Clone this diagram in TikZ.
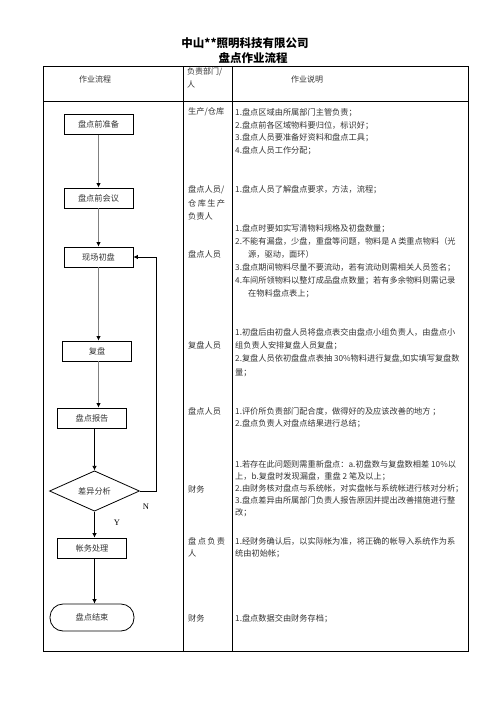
\documentclass[tikz,border=0pt]{standalone}
\usepackage{fontspec}
\setmainfont{Noto Sans CJK SC}
\newfontfamily\latserif{Liberation Serif}
\usetikzlibrary{shapes.geometric,arrows.meta}
\begin{document}
\begin{tikzpicture}[x=1pt,y=-1pt,
  tl/.style={anchor=west,inner sep=0pt,text height=6.5pt,text depth=1.5pt,font=\fontsize{8.2}{10}\selectfont,text=black!80},
  hd/.style={inner sep=0pt,text height=6.5pt,text depth=1.5pt,font=\fontsize{8}{10}\selectfont,text=black!80},
  fbox/.style={draw,line width=0.8pt,minimum width=69pt,minimum height=20pt,inner sep=0pt,font=\fontsize{8.2}{10}\selectfont,text=black!80},
  garr/.style={draw=black!50,line width=1.6pt,-{Latex[length=4.5pt,width=4.5pt,color=black]}},
  barr/.style={draw=black,line width=0.7pt,-{Latex[length=4.5pt,width=4.5pt]}},
  gridline/.style={line width=0.8pt},
  ttl/.style={inner sep=0pt,font=\fontsize{11.5}{13}\selectfont\bfseries}]
\path[use as bounding box] (0,0) rectangle (496,702);
% title
\node[ttl] (title1) at (245,43) {中山**照明科技有限公司};
\node[ttl] (title2) at (253,58) {盘点作业流程};
% table
\draw[gridline] (43,66) rectangle (468,651);
\draw[gridline] (43,101) -- (468,101);
\draw[gridline] (183,66) -- (183,651);
\draw[gridline] (232,66) -- (232,651);
% header
\node[hd] (h1) at (95,80) {作业流程};
\node[hd,anchor=west] (h2) at (187,72) {负责部门/};
\node[hd,anchor=west] (h3) at (187,85) {人};
\node[hd] (h4) at (307,80) {作业说明};
% flowchart
\node[fbox] (prep) at (98.5,124.5) {盘点前准备};
\node[fbox] (meet) at (98.5,198) {盘点前会议};
\node[fbox] (chu) at (98.5,257) {现场初盘};
\node[fbox] (fu) at (97,351) {复盘};
\node[fbox] (bg) at (92,418) {盘点报告};
\node[draw,diamond,line width=0.8pt,minimum width=90pt,minimum height=32pt,inner sep=0pt,font=\fontsize{8.2}{10}\selectfont,text=black!80] (diam) at (94.5,491) {差异分析};
\node[fbox] (zw) at (92,548) {帐务处理};
\node[draw,line width=0.8pt,rounded corners=13pt,minimum width=84pt,minimum height=27pt,inner sep=0pt,font=\fontsize{8.2}{10}\selectfont,text=black!80] (end) at (92,617.5) {盘点结束};
\draw[garr] (prep.south) -- (meet.north);
\draw[garr] (meet.south) -- (chu.north);
\draw[garr] (chu.south) -- (chu.south |- fu.north);
\draw[garr] (chu.south |- fu.south) -- (chu.south |- bg.north);
\draw[barr] (bg.south -| diam.north) -- (diam.north);
\draw[barr] (diam.south) -- (diam.south |- zw.north);
\draw[barr] (diam.south |- zw.south) -- (diam.south |- end.north);
\coordinate (loopc) at (156,491);
\draw[barr] (diam.east) -- (loopc) |- (chu.east);
\node[inner sep=0pt,font=\fontsize{8.5}{10}\selectfont\latserif] (nlab) at (146,507) {N};
\node[inner sep=0pt,font=\fontsize{8.5}{10}\selectfont\latserif] (ylab) at (117,523) {Y};
% column 2
\node[tl] (r1) at (188,112) {生产/仓库};
\node[tl] (r2) at (188,190) {盘点人员/};
\node[tl] (r3) at (188,203.5) {\makebox[37pt][l]{仓\hfill 库\hfill 生\hfill 产}};
\node[tl] (r4) at (188,217) {负责人};
\node[tl] (r5) at (188,255) {盘点人员};
\node[tl] (r6) at (188,346) {复盘人员};
\node[tl] (r7) at (188,412) {盘点人员};
\node[tl] (r8) at (188,490) {财务};
\node[tl] (r9) at (188,542) {\makebox[37pt][l]{盘\hfill 点\hfill 负\hfill 责}};
\node[tl] (r10) at (188,554) {人};
\node[tl] (r11) at (188,619) {财务};
% column 3
\node[tl] (a1) at (235,113) {1.盘点区域由所属部门主管负责；};
\node[tl] (a2) at (235,125.5) {2.盘点前各区域物料要归位，标识好；};
\node[tl] (a3) at (235,138) {3.盘点人员要准备好资料和盘点工具；};
\node[tl] (a4) at (235,151) {4.盘点人员工作分配；};
\node[tl] (b1) at (235,190) {1.盘点人员了解盘点要求，方法，流程；};
\node[tl] (c1) at (235,229) {1.盘点时要如实写清物料规格及初盘数量；};
\node[tl] (c2) at (235,242) {2.不能有漏盘，少盘，重盘等问题，物料是 A 类重点物料（光};
\node[tl] (c3) at (248,255) {源，驱动，面环）};
\node[tl] (c4) at (235,268) {3.盘点期间物料尽量不要流动，若有流动则需相关人员签名；};
\node[tl] (c5) at (235,280.5) {4.车间所领物料以整灯成品盘点数量；若有多余物料则需记录};
\node[tl] (c6) at (248,294) {在物料盘点表上；};
\node[tl] (d1) at (235,333) {1.初盘后由初盘人员将盘点表交由盘点小组负责人，由盘点小};
\node[tl] (d2) at (235,346) {组负责人安排复盘人员复盘；};
\node[tl] (d3) at (235,359) {2.复盘人员依初盘盘点表抽 30\%物料进行复盘,如实填写复盘数};
\node[tl] (d4) at (235,373) {量；};
\node[tl] (e1) at (235,412) {1.评价所负责部门配合度，做得好的及应该改善的地方 ；};
\node[tl] (e2) at (235,424) {2.盘点负责人对盘点结果进行总结；};
\node[tl] (f1) at (235,464.5) {1.若存在此问题则需重新盘点：a.初盘数与复盘数相差 10\%以};
\node[tl] (f2) at (235,477) {上，b.复盘时发现漏盘，重盘 2 笔及以上；};
\node[tl] (f3) at (235,489) {2.由财务核对盘点与系统帐，对实盘帐与系统帐进行核对分析；};
\node[tl] (f4) at (235,501) {3.盘点差异由所属部门负责人报告原因并提出改善措施进行整};
\node[tl] (f5) at (235,513) {改；};
\node[tl] (g1) at (235,542) {1.经财务确认后，以实际帐为准，将正确的帐导入系统作为系};
\node[tl] (g2) at (235,554) {统由初始帐；};
\node[tl] (k1) at (235,619) {1.盘点数据交由财务存档；};
\end{tikzpicture}
\end{document}
